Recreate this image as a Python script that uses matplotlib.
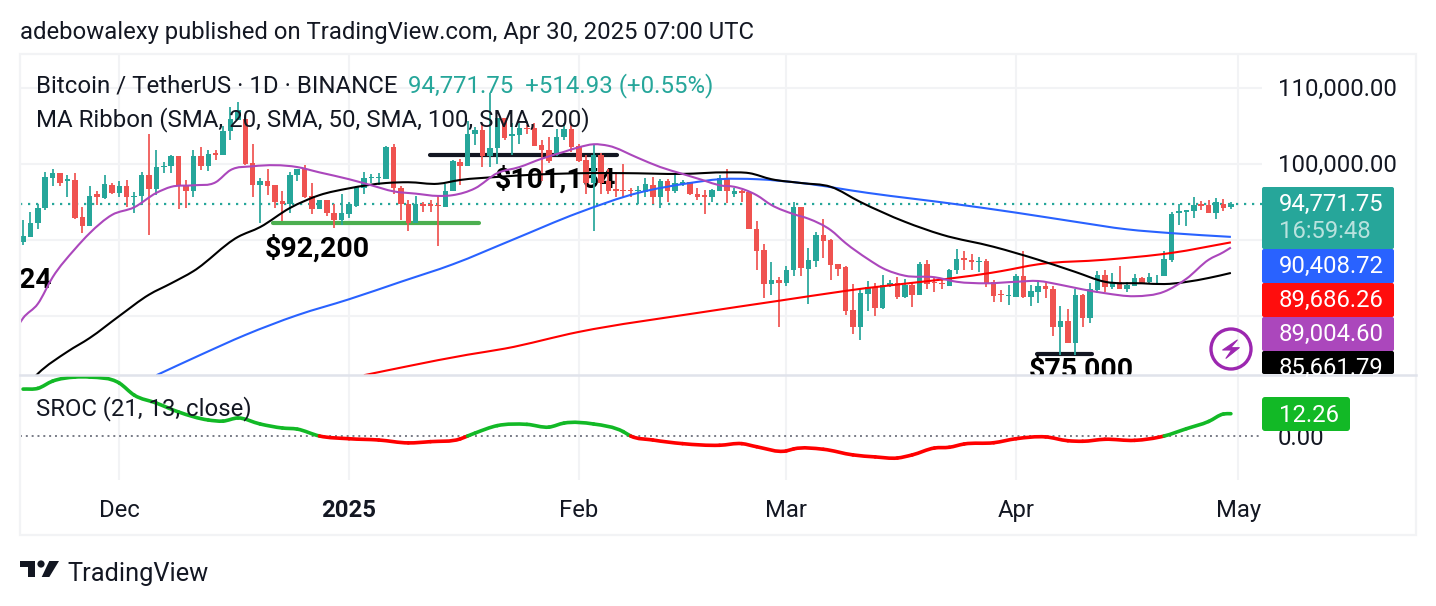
import numpy as np
import pandas as pd
import matplotlib
matplotlib.use("Agg")
import matplotlib.pyplot as plt
from matplotlib.patches import FancyBboxPatch, Circle, Polygon, Rectangle, PathPatch
from matplotlib.path import Path
from matplotlib.transforms import ScaledTranslation

plt.rcParams['font.family'] = ['Roboto', 'DejaVu Sans']

# ── Data ────────────────────────────────────────────────────────────────────
# daily BTC/USDT candles in thousands of USD, first bar 2024-11-18

opens = [
    89.8, 90.4, 92.2, 94.2, 98.2, 98.8, 97.8, 97.9, 93.0, 91.9,
    96.0, 95.5, 97.3, 96.2, 97.1, 95.7, 95.8, 98.6, 96.7, 99.6,
    99.7, 101.1, 97.2, 96.5, 101.1, 99.7, 101.4, 101.2, 104.3, 105.8,
    105.9, 100.1, 97.2, 97.7, 97.3, 95.1, 94.7, 98.5, 99.3, 95.8,
    94.1, 95.3, 93.6, 92.6, 93.4, 94.5, 96.8, 98.1, 98.2, 98.0,
    102.2, 96.8, 94.8, 92.3, 94.7, 94.7, 94.6, 94.4, 96.4, 100.3,
    99.7, 103.9, 104.5, 101.0, 102.1, 106.1, 103.7, 103.8, 104.8, 104.7,
    102.5, 101.9, 101.2, 103.5, 104.6, 102.4, 100.5, 97.5, 101.2, 97.7,
    96.7, 96.6, 96.6, 96.4, 96.3, 97.3, 95.7, 97.8, 96.5, 97.4,
    97.6, 96.0, 95.9, 95.6, 96.4, 98.2, 96.1, 96.5, 96.3, 91.4,
    88.7, 84.2, 84.7, 84.4, 86.1, 94.3, 86.2, 87.3, 90.7, 90.0,
    86.8, 86.4, 80.8, 78.6, 82.9, 83.8, 81.0, 84.0, 84.3, 82.5,
    84.1, 82.7, 86.8, 84.5, 84.4, 83.9, 86.1, 87.6, 87.4, 87.1,
    87.2, 84.5, 82.9, 82.6, 82.5, 85.3, 82.5, 83.2, 83.9, 83.6,
    78.5, 79.3, 76.4, 82.8, 79.7, 83.4, 85.4, 83.8, 84.5, 83.5,
    83.9, 85.0, 84.5, 85.2, 85.2, 87.4, 93.6, 93.7, 93.8, 94.8,
    94.6, 93.6, 94.8, 94.3,
]
highs = [
    92.6, 93.7, 94.8, 98.9, 99.4, 98.8, 98.6, 98.8, 94.4, 97.1,
    96.4, 98.5, 97.5, 97.7, 97.9, 96.3, 98.9, 103.9, 101.8, 100.3,
    101.2, 101.1, 97.9, 101.8, 102.3, 101.8, 101.8, 105.0, 107.5, 108.1,
    105.9, 102.6, 98.1, 99.4, 97.3, 96.4, 98.9, 99.4, 99.9, 97.5,
    95.3, 95.3, 94.8, 96.1, 95.0, 97.1, 98.9, 98.7, 98.8, 102.4,
    102.6, 97.1, 95.3, 95.8, 95.0, 95.3, 95.9, 97.4, 100.5, 100.7,
    105.6, 104.9, 105.4, 109.4, 106.0, 106.1, 105.4, 105.4, 105.1, 105.4,
    103.2, 103.6, 104.6, 105.4, 105.1, 102.6, 101.2, 102.5, 101.4, 99.4,
    99.0, 100.0, 96.8, 97.1, 98.2, 98.3, 98.0, 98.0, 98.7, 97.9,
    97.6, 96.8, 96.6, 96.7, 98.6, 99.3, 96.8, 96.6, 96.4, 92.5,
    89.5, 87.1, 85.1, 86.6, 95.0, 94.3, 88.9, 91.0, 92.8, 90.1,
    86.9, 86.6, 84.2, 83.6, 84.6, 84.3, 85.4, 84.7, 85.1, 84.8,
    84.3, 87.1, 87.4, 85.0, 84.7, 86.2, 88.8, 88.5, 88.2, 87.7,
    87.5, 84.7, 83.4, 84.1, 85.5, 88.6, 84.1, 84.5, 84.3, 83.9,
    81.3, 80.9, 83.6, 82.9, 84.3, 85.9, 86.1, 85.7, 86.6, 84.5,
    85.5, 85.1, 85.7, 85.4, 88.5, 93.7, 94.8, 93.9, 95.6, 95.1,
    95.3, 95.5, 95.4, 95.0,
]
lows = [
    89.3, 90.4, 91.5, 93.9, 97.1, 97.1, 95.7, 92.7, 90.9, 91.9,
    94.6, 95.4, 96.1, 95.7, 94.4, 93.6, 94.6, 90.6, 95.9, 98.8,
    98.8, 94.1, 94.2, 95.7, 99.2, 99.1, 100.5, 101.2, 103.2, 105.8,
    99.9, 95.7, 92.3, 95.9, 94.2, 92.5, 93.6, 97.7, 95.5, 93.4,
    94.1, 93.2, 91.6, 92.0, 92.9, 94.4, 96.1, 97.5, 97.2, 98.0,
    96.1, 92.6, 91.2, 92.3, 93.7, 93.7, 89.2, 94.4, 96.4, 97.2,
    99.7, 102.5, 99.6, 99.6, 100.0, 103.1, 101.2, 102.7, 103.9, 102.4,
    97.8, 100.1, 101.0, 103.2, 101.6, 100.3, 96.1, 91.2, 96.1, 96.1,
    95.6, 95.6, 95.7, 94.7, 95.6, 94.8, 94.2, 95.0, 96.2, 97.1,
    95.9, 95.2, 93.4, 95.0, 96.4, 94.9, 95.7, 95.0, 91.4, 86.1,
    82.3, 82.8, 78.5, 83.9, 85.2, 85.2, 81.6, 86.5, 87.6, 84.7,
    85.3, 80.1, 77.6, 76.8, 80.7, 80.0, 80.9, 83.8, 82.2, 82.4,
    81.2, 82.7, 83.6, 83.2, 83.6, 83.9, 85.5, 86.1, 86.0, 85.8,
    83.8, 81.8, 81.8, 81.4, 82.5, 82.3, 81.3, 81.7, 82.3, 77.3,
    74.8, 76.4, 74.8, 78.6, 79.1, 83.0, 83.2, 83.6, 83.5, 83.2,
    83.9, 84.3, 84.2, 84.1, 85.2, 87.1, 92.0, 91.8, 92.9, 93.9,
    93.6, 92.8, 93.8, 94.1,
]
closes = [
    90.5, 92.2, 94.2, 98.3, 98.8, 97.5, 98.0, 92.9, 91.9, 95.8,
    95.7, 97.4, 96.2, 97.1, 95.7, 95.8, 98.6, 96.7, 99.6, 99.8,
    101.1, 97.1, 96.5, 101.1, 99.7, 101.3, 101.2, 104.3, 105.9, 107.1,
    100.0, 97.2, 97.7, 97.1, 95.0, 94.8, 98.6, 99.3, 95.7, 94.1,
    95.3, 93.6, 92.6, 93.5, 94.7, 97.0, 98.1, 98.3, 98.3, 102.2,
    96.8, 94.8, 92.3, 94.8, 94.5, 94.5, 94.5, 96.4, 100.4, 99.7,
    103.9, 104.5, 101.0, 102.1, 106.0, 103.4, 103.9, 104.7, 104.6, 102.4,
    101.8, 100.4, 103.5, 104.6, 102.2, 100.4, 97.5, 101.2, 97.5, 96.4,
    96.4, 96.4, 96.4, 96.6, 97.4, 95.7, 97.8, 96.5, 97.5, 97.6,
    96.0, 95.7, 95.7, 96.6, 98.2, 96.4, 96.4, 96.2, 91.4, 88.6,
    84.2, 84.7, 84.4, 86.1, 94.3, 86.3, 87.4, 90.7, 89.9, 86.7,
    86.2, 80.7, 78.6, 83.0, 83.8, 81.1, 84.1, 84.3, 82.5, 84.1,
    82.7, 86.8, 84.2, 84.3, 84.2, 86.1, 87.5, 87.4, 87.1, 87.2,
    84.2, 82.6, 82.7, 82.8, 85.2, 82.5, 83.3, 83.9, 83.6, 78.5,
    79.3, 76.4, 82.8, 79.7, 83.5, 85.4, 83.8, 84.5, 83.5, 84.1,
    85.0, 84.4, 85.1, 85.3, 87.5, 93.4, 93.8, 93.9, 94.6, 94.5,
    93.6, 95.0, 94.2, 94.77175,
]

# moving averages: bar index and level
sma20_idx = [-1, 0, 2, 4, 7, 9, 12, 15, 18, 20, 23, 26, 28, 31, 37, 40, 44, 47, 50, 53, 56,
             58, 61, 64, 67, 70, 73, 75, 77, 79, 83, 86, 89, 92, 94, 96, 99, 101, 104, 106,
             109, 111, 114, 116, 119, 123, 126, 130, 134, 137, 140, 143, 146, 150, 154,
             157, 160, 162, 163]
sma20_val = [78.2, 79.7, 81.6, 85.1, 88.8, 90.9, 93.3, 94.3, 96.2, 97.0, 97.2, 97.6, 99.2, 99.7,
             99.6, 98.9, 98.0, 97.2, 96.4, 96.1, 95.8, 95.9, 96.8, 98.8, 99.6, 100.7, 101.6,
             102.2, 102.6, 102.4, 100.8, 99.6, 98.7, 97.8, 97.2, 97.0, 95.9, 94.6, 93.4, 92.8,
             91.3, 89.6, 87.5, 86.3, 85.3, 85.1, 84.5, 84.3, 84.5, 84.6, 84.1, 83.5, 83.0,
             82.6, 83.2, 84.9, 87.4, 88.4, 89.0046]
sma50_idx = [1, 2, 6, 9, 13, 17, 20, 23, 29, 32, 36, 40, 44, 49, 52, 56, 59, 64, 69, 76, 81, 89,
             95, 98, 101, 105, 109, 113, 119, 124, 131, 137, 142, 146, 151, 154, 160, 163]
sma50_val = [71.4, 72.4, 75.3, 77.1, 80.0, 82.8, 84.3, 85.9, 90.4, 91.7, 94.2, 95.9, 96.8, 97.5,
             97.6, 97.4, 97.9, 98.3, 98.6, 98.8, 98.8, 98.7, 98.9, 98.8, 98.0, 97.5, 97.0,
             95.0, 92.4, 90.7, 89.1, 87.4, 85.8, 84.5, 84.3, 84.2, 85.0, 85.66179]
sma100_idx = [18, 24, 30, 37, 44, 51, 58, 66, 75, 83, 90, 94, 99, 105, 114, 126, 134, 142,
              149, 155, 163]
sma100_val = [72.2, 74.9, 77.5, 80.1, 82.2, 84.5, 86.8, 90.0, 93.6, 96.2, 97.5, 98.0, 98.0,
              97.5, 96.2, 94.7, 93.6, 92.4, 91.4, 90.9, 90.40872]
sma200_idx = [46, 52, 60, 65, 75, 91, 102, 111, 132, 137, 146, 155, 163]
sma200_val = [72.2, 73.4, 74.9, 75.7, 77.9, 80.4, 82.0, 83.3, 85.9, 86.8, 87.4, 88.3, 89.68626]

# smoothed rate of change
sroc_idx = [0, 2, 4, 7, 9, 13, 15, 18, 21, 25, 27, 29, 32, 35, 37, 40, 44, 48, 52, 55, 59, 60,
            61, 64, 68, 71, 73, 77, 81, 82, 85, 89, 94, 97, 99, 103, 104, 108, 112, 115, 118,
            120, 123, 125, 127, 131, 134, 138, 141, 143, 146, 150, 154, 157, 160, 162, 163]
sroc_val = [25.8, 26.2, 30.2, 32.4, 32.4, 29.1, 22.5, 18.1, 13.2, 8.8, 8.2, 9.9, 6.6, 4.4, 3.8,
            0.0, -1.5, -2.2, -3.8, -3.1, -1.6, 0.0, 1.6, 5.7, 6.4, 4.9, 7.1, 6.6, 2.4, 0.0,
            -2.2, -4.2, -5.1, -4.2, -5.9, -8.2, -7.1, -7.3, -10.4, -11.5, -12.1, -10.4, -6.6,
            -6.2, -4.4, -3.7, -1.5, -0.5, -2.6, -2.9, -1.8, -2.4, 0.0, 4.0, 8.0, 12.1, 12.26]

price_ticks = [80000, 90000, 100000, 110000]
price_tick_labels = ["", "", "100,000.00", "110,000.00"]
month_dates = ["2024-12-01", "2025-01-01", "2025-02-01", "2025-03-01", "2025-04-01", "2025-05-01"]
month_labels = ["Dec", "2025", "Feb", "Mar", "Apr", "May"]
support_level = 92200
resistance_level = 101154
low_level = 75000

# ── Style ───────────────────────────────────────────────────────────────────

W, H = 1436, 606
TEAL, RED = "#26a69a", "#ef5350"
INK = "#131722"
GRID = "#f2f3f5"
PANE_LINE = "#e0e3eb"
C_20, C_50, C_100, C_200 = "#ab47bc", "#000000", "#2962ff", "#ff0000"
GREEN = "#12b926"
SIZE = 17.2
LEGEND_SIZE = 17.28


def frac(left, top, right, bottom):
    return [left / W, 1 - bottom / H, (right - left) / W, (bottom - top) / H]


def curve_verts(xs, ys):
    # cubic Hermite strokes through the samples
    xs, ys = np.asarray(xs, float), np.asarray(ys, float)
    slope = np.gradient(ys, xs)
    verts = [(xs[0], ys[0])]
    for i in range(len(xs) - 1):
        dx = xs[i + 1] - xs[i]
        verts.append((xs[i] + dx / 3, ys[i] + slope[i] * dx / 3))
        verts.append((xs[i + 1] - dx / 3, ys[i + 1] - slope[i + 1] * dx / 3))
        verts.append((xs[i + 1], ys[i + 1]))
    return verts


def curve_path(verts):
    return Path(verts, [Path.MOVETO] + [Path.CURVE4] * (len(verts) - 1))


fig = plt.figure(figsize=(W / 100, H / 100), dpi=100)

# chrome drawn in pixel space, on top of both panes
ov = fig.add_axes([0, 0, 1, 1], zorder=10)
ov.set_xlim(0, W)
ov.set_ylim(H, 0)
ov.axis('off')

ax = fig.add_axes(frac(20, 54, 1262, 375), zorder=2)
ax2 = fig.add_axes(frac(20, 376, 1262, 480), zorder=2)

x_lim = (-0.405, 167.2)
dates = pd.date_range("2024-11-18", periods=len(closes))
month_idx = [(pd.Timestamp(d) - dates[0]).days for d in month_dates]

# ── Price pane ──────────────────────────────────────────────────────────────

x = np.arange(len(closes))
o, h, l, c = [np.array(a) * 1000 for a in (opens, highs, lows, closes)]
colors = [TEAL if cl >= op else RED for op, cl in zip(o, c)]

ax.vlines(x, l, h, colors=colors, linewidth=1.25, zorder=4)
ax.bar(x, np.abs(c - o), bottom=np.minimum(o, c), width=0.74, color=colors, linewidth=0, zorder=4)

for xs, vals, col in [(sma200_idx, sma200_val, C_200), (sma100_idx, sma100_val, C_100),
                      (sma50_idx, sma50_val, C_50), (sma20_idx, sma20_val, C_20)]:
    path = curve_path(curve_verts(xs, np.array(vals) * 1000))
    ax.add_patch(PathPatch(path, fill=False, edgecolor=col, linewidth=1.5, zorder=5))

ax.axhline(c[-1], color=TEAL, linewidth=1.6, linestyle=(0, (1, 2.6)), zorder=3)

# hand-drawn levels sit under the candles
ax.plot([33.8, 61.6], [support_level] * 2, color="#4caf50", linewidth=3.0, solid_capstyle='round', zorder=3)
ax.plot([54.9, 80.2], [resistance_level] * 2, color=INK, linewidth=3.0, solid_capstyle='round', zorder=3)
ax.plot([136.8, 144.2], [low_level] * 2, color=INK, linewidth=3.0, solid_capstyle='round', zorder=3)

ax.text(265, 249, "$92,200", transform=ov.transData, fontsize=20.5, fontweight='bold',
        color="#000000", va='center', zorder=3, clip_on=True)
ax.text(495, 180, "$101,154", transform=ov.transData, fontsize=20.5, fontweight='bold',
        color="#000000", va='center', zorder=3, clip_on=True)
ax.text(1029, 370, "$75,000", transform=ov.transData, fontsize=20.5, fontweight='bold',
        color="#000000", va='center', zorder=3, clip_on=True)
ax.text(19, 281, "24", transform=ov.transData, fontsize=20.5, fontweight='bold',
        color="#000000", va='center', zorder=3, clip_on=True)

ax.set_xlim(*x_lim)
ax.set_ylim(72230, 114480)
ax.set_xticks(month_idx)
ax.set_yticks(price_ticks)
ax.set_yticklabels(price_tick_labels)
ax.yaxis.tick_right()
ax.tick_params(axis='x', length=0, labelbottom=False)
ax.tick_params(axis='y', length=0, pad=11.3, labelsize=SIZE, labelcolor=INK)
nudge = ScaledTranslation(0, 1 / 100, fig.dpi_scale_trans)
for label in ax.get_yticklabels():
    label.set_transform(label.get_transform() + nudge)
ax.grid(True, color=GRID, linewidth=1.5, zorder=0)
ax.set_axisbelow(True)
for s in ax.spines.values():
    s.set_visible(False)

# ── SROC pane ───────────────────────────────────────────────────────────────

ax2.axhline(0, color="#787b86", linewidth=1.4, linestyle=(0, (1, 2)), zorder=2)
sroc_verts = curve_verts(sroc_idx, sroc_val)
for i in range(len(sroc_idx) - 1):
    seg_mid = sroc_val[i] + sroc_val[i + 1]
    ax2.add_patch(PathPatch(curve_path(sroc_verts[3 * i:3 * i + 4]), fill=False,
                            edgecolor=GREEN if seg_mid >= 0 else "#ff0000",
                            linewidth=2.6, capstyle='round', zorder=4))

ax2.set_xlim(*x_lim)
ax2.set_ylim(-24.2, 33.0)
ax2.set_xticks(month_idx)
ax2.set_xticklabels(month_labels)
ax2.set_yticks([0])
ax2.set_yticklabels(["0.00"])
ax2.yaxis.tick_right()
ax2.tick_params(axis='x', length=0, pad=13.4, labelsize=SIZE, labelcolor=INK)
ax2.tick_params(axis='y', length=0, pad=11.3, labelsize=SIZE, labelcolor=INK)
ax2.get_xticklabels()[1].set_fontweight('bold')
ax2.xaxis.grid(True, color=GRID, linewidth=1.5, zorder=0)
ax2.set_axisbelow(True)
for s in ax2.spines.values():
    s.set_visible(False)

# ── Frame, legends and labels ───────────────────────────────────────────────

ov.add_patch(Rectangle((20, 54), 1396, 481, fill=False, edgecolor=GRID, linewidth=1.6))
ov.plot([20, 1416], [375, 375], color=PANE_LINE, linewidth=1.8)

ov.text(20, 33, "adebowalexy published on TradingView.com, Apr 30, 2025 07:00 UTC",
        fontsize=SIZE, color=INK, va='center')
ov.text(36, 86, "Bitcoin / TetherUS · 1D · BINANCE", fontsize=LEGEND_SIZE, color=INK, va='center')
ov.text(408, 86, "94,771.75  +514.93 (+0.55%)", fontsize=LEGEND_SIZE, color=TEAL, va='center')
ov.text(36, 120, "MA Ribbon (SMA, 20, SMA, 50, SMA, 100, SMA, 200)", fontsize=LEGEND_SIZE, color=INK, va='center')
ov.text(36, 409, "SROC (21, 13, close)", fontsize=SIZE, color=INK, va='center')

price_boxes = [(187, 249, TEAL), (249, 283, C_100), (283, 317, "#ff0d0d"), (317, 351, C_20), (351, 374, "#000000")]
for top, bottom, col in price_boxes:
    ov.add_patch(FancyBboxPatch((1262, top), 132, bottom - top, boxstyle="round,pad=0,rounding_size=2",
                                facecolor=col, edgecolor='none'))
ov.add_patch(FancyBboxPatch((1262, 397), 88, 34, boxstyle="round,pad=0,rounding_size=3",
                            facecolor=GREEN, edgecolor='none'))

ov.text(1279, 204, f"{c[-1]:,.2f}", fontsize=SIZE, color="white", va='center')
ov.text(1279, 232, "16:59:48", fontsize=SIZE, color="#b9e2de", va='center')
ov.text(1279, 266, f"{sma100_val[-1] * 1000:,.2f}", fontsize=SIZE, color="white", va='center')
ov.text(1279, 300, f"{sma200_val[-1] * 1000:,.2f}", fontsize=SIZE, color="white", va='center')
ov.text(1279, 334, f"{sma20_val[-1] * 1000:,.2f}", fontsize=SIZE, color="white", va='center')
t = ov.text(1279, 368, f"{sma50_val[-1] * 1000:,.2f}", fontsize=SIZE, color="white", va='center')
t.set_clip_path(Rectangle((1262, 351), 132, 23, transform=ov.transData))
ov.text(1279, 416, f"{sroc_val[-1]:.2f}", fontsize=SIZE, color="white", va='center')

# lightning badge
ov.add_patch(Circle((1231, 349), 20, fill=False, edgecolor="#9c27b0", linewidth=2.4))
bolt = [(6.3, -9), (-8.3, 1), (0.7, 1), (-5, 9.3), (8.3, -1.3), (-0.3, -1.3)]
ov.add_patch(Polygon([(1231 + px, 349 + py) for px, py in bolt], closed=True, facecolor="#9c27b0",
                     edgecolor="#9c27b0", linewidth=0.8, joinstyle='round'))

# footer mark
ov.add_patch(Polygon([(20, 561), (35, 561), (35, 577), (28, 577), (28, 567), (20, 567)],
                     closed=True, facecolor=INK, edgecolor='none'))
ov.add_patch(Circle((41, 564), 3.6, facecolor=INK, edgecolor='none'))
ov.add_patch(Polygon([(49.3, 561), (59, 561), (49.3, 577), (41.7, 577)], closed=True, facecolor=INK, edgecolor='none'))
ov.text(67, 574, "TradingView", fontsize=18.3, color=INK, va='center')

fig.savefig("out.png", dpi=100)
